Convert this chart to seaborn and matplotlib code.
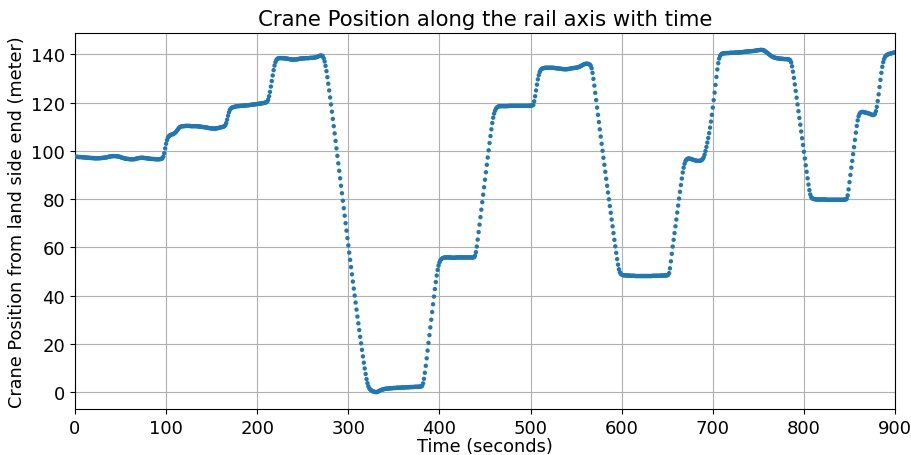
import numpy as np
import pandas as pd
import matplotlib
matplotlib.use("Agg")
import matplotlib.pyplot as plt
import seaborn as sns

# Crane position (m from land side end), sampled once per second, in 100 s blocks
pos_000_099 = [
    97.5, 97.5, 97.5, 97.5, 97.4, 97.4, 97.4, 97.4, 97.3, 97.3, 97.3,
    97.2, 97.2, 97.2, 97.1, 97.1, 97.1, 97.0, 97.0, 97.0, 97.0,
    96.9, 96.9, 96.9, 96.9, 96.9, 96.9, 96.9, 97.0, 97.0, 97.0,
    97.1, 97.1, 97.2, 97.2, 97.3, 97.4, 97.5, 97.6, 97.7, 97.7,
    97.8, 97.8, 97.8, 97.8, 97.8, 97.7, 97.7, 97.6, 97.5, 97.4,
    97.2, 97.1, 97.0, 96.9, 96.8, 96.7, 96.7, 96.6, 96.6, 96.5,
    96.5, 96.5, 96.5, 96.5, 96.5, 96.6, 96.7, 96.8, 96.9, 97.0,
    97.0, 97.1, 97.1, 97.1, 97.1, 97.0, 97.0, 96.9, 96.9, 96.8,
    96.8, 96.7, 96.7, 96.6, 96.6, 96.6, 96.6, 96.5, 96.5, 96.5,
    96.5, 96.5, 96.5, 96.6, 96.7, 96.9, 97.6, 99.0, 101.0,
]
pos_100_199 = [
    102.9, 104.4, 105.4, 106.0, 106.4, 106.6, 106.7, 106.8, 107.0, 107.2,
    107.5, 107.9, 108.4, 108.9, 109.4, 109.8, 110.0, 110.1, 110.2, 110.2,
    110.2, 110.3, 110.3, 110.3, 110.3, 110.3, 110.3, 110.2, 110.2, 110.2,
    110.2, 110.2, 110.2, 110.2, 110.2, 110.1, 110.1, 110.0, 110.0, 109.9,
    109.9, 109.8, 109.8, 109.7, 109.7, 109.6, 109.5, 109.4, 109.4, 109.3,
    109.3, 109.2, 109.2, 109.2, 109.2, 109.3, 109.3, 109.4, 109.5, 109.6,
    109.7, 109.8, 109.9, 110.0, 110.2, 110.6, 111.5, 112.9, 114.5, 115.9,
    116.9, 117.5, 117.8, 118.0, 118.1, 118.2, 118.3, 118.4, 118.5, 118.5,
    118.5, 118.6, 118.6, 118.6, 118.7, 118.7, 118.7, 118.8, 118.8, 118.8,
    118.9, 118.9, 119.0, 119.0, 119.1, 119.1, 119.2, 119.2, 119.3, 119.3,
]
pos_200_299 = [
    119.4, 119.4, 119.5, 119.5, 119.6, 119.7, 119.7, 119.8, 119.9, 120.0,
    120.1, 120.4, 121.2, 122.6, 124.4, 126.6, 128.9, 131.2, 133.4, 135.3,
    136.7, 137.6, 138.1, 138.3, 138.4, 138.4, 138.4, 138.4, 138.4, 138.3,
    138.3, 138.3, 138.2, 138.2, 138.1, 138.0, 137.9, 137.9, 137.8, 137.8,
    137.8, 137.8, 137.8, 137.9, 137.9, 138.0, 138.1, 138.2, 138.2, 138.3,
    138.3, 138.3, 138.3, 138.4, 138.4, 138.4, 138.4, 138.4, 138.5, 138.5,
    138.5, 138.5, 138.6, 138.6, 138.7, 138.8, 138.9, 139.1, 139.3, 139.4,
    139.5, 139.4, 139.1, 138.3, 137.0, 135.2, 133.0, 130.5, 127.8, 125.0,
    122.1, 119.2, 116.2, 113.2, 110.2, 107.2, 104.1, 101.0, 97.9, 94.8,
    91.7, 88.6, 85.5, 82.4, 79.3, 76.2, 73.1, 70.0, 66.9, 63.8,
]
pos_300_399 = [
    60.8, 57.8, 54.8, 51.8, 48.8, 45.8, 42.9, 40.0, 37.1, 34.2,
    31.3, 28.5, 25.7, 22.9, 20.2, 17.5, 14.8, 12.2, 9.8, 7.5,
    5.4, 3.7, 2.4, 1.6, 1.1, 0.8, 0.5, 0.3, 0.2, 0.1,
    0.0, 0.0, 0.1, 0.3, 0.5, 0.7, 0.9, 1.0, 1.1, 1.2,
    1.3, 1.4, 1.4, 1.5, 1.5, 1.5, 1.6, 1.6, 1.6, 1.7,
    1.7, 1.7, 1.7, 1.8, 1.8, 1.8, 1.8, 1.8, 1.9, 1.9,
    1.9, 1.9, 1.9, 2.0, 2.0, 2.0, 2.0, 2.0, 2.1, 2.1,
    2.1, 2.1, 2.1, 2.2, 2.2, 2.2, 2.2, 2.2, 2.3, 2.3,
    2.3, 2.6, 3.6, 5.5, 8.0, 10.9, 14.0, 17.2, 20.4, 23.6,
    26.8, 30.0, 33.2, 36.4, 39.6, 42.7, 45.6, 48.3, 50.6, 52.4,
]
pos_400_499 = [
    53.7, 54.6, 55.1, 55.4, 55.6, 55.7, 55.8, 55.8, 55.8, 55.8,
    55.8, 55.8, 55.8, 55.7, 55.7, 55.7, 55.7, 55.7, 55.7, 55.8,
    55.8, 55.8, 55.8, 55.8, 55.8, 55.8, 55.8, 55.8, 55.8, 55.8,
    55.8, 55.8, 55.8, 55.8, 55.8, 55.8, 55.8, 55.8, 55.9, 56.5,
    58.0, 60.3, 63.2, 66.3, 69.4, 72.5, 75.6, 78.7, 81.8, 84.9,
    88.0, 91.1, 94.2, 97.2, 100.2, 103.2, 106.1, 108.9, 111.5, 113.7,
    115.4, 116.6, 117.4, 117.9, 118.2, 118.4, 118.5, 118.5, 118.5, 118.5,
    118.5, 118.5, 118.5, 118.5, 118.5, 118.5, 118.6, 118.6, 118.6, 118.6,
    118.6, 118.6, 118.6, 118.6, 118.6, 118.6, 118.6, 118.6, 118.6, 118.6,
    118.6, 118.6, 118.6, 118.6, 118.6, 118.6, 118.6, 118.6, 118.6, 118.7,
]
pos_500_599 = [
    118.7, 118.7, 118.8, 119.0, 120.5, 122.6, 125.0, 127.4, 129.6, 131.3,
    132.6, 133.4, 133.9, 134.1, 134.2, 134.3, 134.4, 134.4, 134.4, 134.4,
    134.4, 134.4, 134.4, 134.4, 134.4, 134.4, 134.3, 134.3, 134.2, 134.2,
    134.1, 134.1, 134.0, 134.0, 133.9, 133.9, 133.8, 133.8, 133.8, 133.8,
    133.8, 133.9, 133.9, 134.0, 134.1, 134.2, 134.2, 134.3, 134.3, 134.4,
    134.4, 134.5, 134.6, 134.7, 134.9, 135.1, 135.3, 135.5, 135.7, 135.9,
    136.0, 136.1, 136.1, 136.0, 135.9, 135.7, 135.3, 134.2, 132.3, 129.8,
    127.0, 124.0, 121.0, 117.9, 114.9, 111.9, 108.9, 105.9, 102.9, 100.0,
    97.1, 94.2, 91.3, 88.4, 85.5, 82.7, 79.9, 77.1, 74.3, 71.5,
    68.7, 65.9, 63.1, 60.4, 57.7, 55.1, 52.8, 50.9, 49.7, 49.0,
]
pos_600_699 = [
    48.7, 48.5, 48.4, 48.4, 48.4, 48.3, 48.3, 48.3, 48.3, 48.2,
    48.2, 48.2, 48.2, 48.2, 48.2, 48.1, 48.1, 48.1, 48.1, 48.1,
    48.1, 48.1, 48.1, 48.1, 48.1, 48.1, 48.1, 48.1, 48.1, 48.1,
    48.1, 48.1, 48.1, 48.1, 48.2, 48.2, 48.2, 48.2, 48.2, 48.2,
    48.2, 48.2, 48.2, 48.3, 48.3, 48.3, 48.3, 48.3, 48.3, 48.3,
    48.4, 48.6, 49.3, 51.3, 54.2, 57.3, 60.3, 63.1, 65.9, 68.7,
    71.5, 74.4, 77.3, 80.2, 83.0, 85.8, 88.5, 91.0, 93.0, 94.6,
    95.7, 96.3, 96.6, 96.8, 96.8, 96.7, 96.6, 96.5, 96.3, 96.2,
    96.1, 96.0, 95.9, 95.8, 95.8, 95.8, 95.9, 96.0, 96.2, 96.6,
    97.3, 98.4, 99.9, 101.6, 103.4, 105.3, 107.3, 109.6, 112.1, 114.9,
]
pos_700_799 = [
    117.9, 121.0, 124.1, 127.3, 130.6, 133.7, 136.3, 138.2, 139.3, 139.9,
    140.2, 140.3, 140.4, 140.4, 140.4, 140.5, 140.5, 140.5, 140.5, 140.6,
    140.6, 140.6, 140.6, 140.6, 140.7, 140.7, 140.7, 140.7, 140.7, 140.8,
    140.8, 140.8, 140.9, 140.9, 141.0, 141.0, 141.1, 141.1, 141.1, 141.2,
    141.2, 141.2, 141.3, 141.3, 141.3, 141.4, 141.4, 141.5, 141.6, 141.6,
    141.7, 141.7, 141.8, 141.8, 141.8, 141.7, 141.6, 141.4, 141.1, 140.8,
    140.5, 140.2, 139.9, 139.6, 139.3, 139.1, 138.9, 138.7, 138.6, 138.5,
    138.4, 138.3, 138.3, 138.2, 138.2, 138.1, 138.1, 138.1, 138.0, 138.0,
    138.0, 138.0, 137.9, 137.9, 137.8, 137.5, 136.6, 135.0, 132.8, 130.2,
    127.5, 124.8, 122.0, 119.2, 116.4, 113.6, 110.8, 108.0, 105.2, 102.4,
]
pos_800_900 = [
    99.6, 96.8, 94.0, 91.3, 88.6, 86.0, 83.7, 81.9, 80.8, 80.3,
    80.1, 80.0, 79.9, 79.9, 79.8, 79.8, 79.8, 79.8, 79.8, 79.8,
    79.8, 79.8, 79.8, 79.8, 79.8, 79.7, 79.7, 79.7, 79.7, 79.7,
    79.7, 79.7, 79.7, 79.7, 79.7, 79.7, 79.7, 79.7, 79.7, 79.7,
    79.7, 79.7, 79.7, 79.7, 79.7, 79.8, 79.8, 80.1, 81.5, 84.0,
    87.0, 90.0, 93.0, 95.8, 98.6, 101.5, 104.5, 107.5, 110.3, 112.6,
    114.3, 115.3, 115.8, 116.0, 116.1, 116.1, 116.0, 115.9, 115.8, 115.7,
    115.6, 115.5, 115.3, 115.2, 115.0, 114.9, 114.8, 114.9, 115.3, 116.4,
    118.2, 120.6, 123.4, 126.4, 129.4, 132.3, 134.8, 136.7, 138.0, 138.9,
    139.4, 139.7, 139.9, 140.1, 140.2, 140.3, 140.4, 140.5, 140.6, 140.7,
    140.8,
]

SAMPLE_PERIOD_S = 1.0

position = np.concatenate([
    pos_000_099, pos_100_199, pos_200_299, pos_300_399, pos_400_499,
    pos_500_599, pos_600_699, pos_700_799, pos_800_900,
])
time_s = np.arange(len(position)) * SAMPLE_PERIOD_S
df = pd.DataFrame({"time": time_s, "position": position})

plt.rcParams["font.family"] = ["DejaVu Sans"]
fig, ax = plt.subplots(figsize=(9.12, 4.56), dpi=100)
fig.subplots_adjust(left=0.0822, right=0.9814, top=0.9254, bottom=0.1009)

sns.scatterplot(data=df, x="time", y="position", ax=ax, s=10,
                color="#1f77b4", edgecolor="none", linewidth=0, zorder=3)

ax.set_xlim(0, 900)
ax.set_ylim(-7.0, 148.8)
ax.set_xticks(np.arange(0, 901, 100))
ax.set_yticks(np.arange(0, 141, 20))
ax.grid(True, color="#b0b0b0", linewidth=0.8, zorder=0)
ax.set_axisbelow(True)
for sp in ax.spines.values():
    sp.set_color("black")
    sp.set_linewidth(0.8)
ax.tick_params(labelsize=13, length=3.5, width=0.8)

ax.set_title("Crane Position along the rail axis with time", fontsize=15.3)
ax.set_xlabel("Time (seconds)", fontsize=12.8, labelpad=0.5)
ax.set_ylabel("Crane Position from land side end (meter)", fontsize=12.7, labelpad=4)

fig.savefig("out.png", dpi=100)
